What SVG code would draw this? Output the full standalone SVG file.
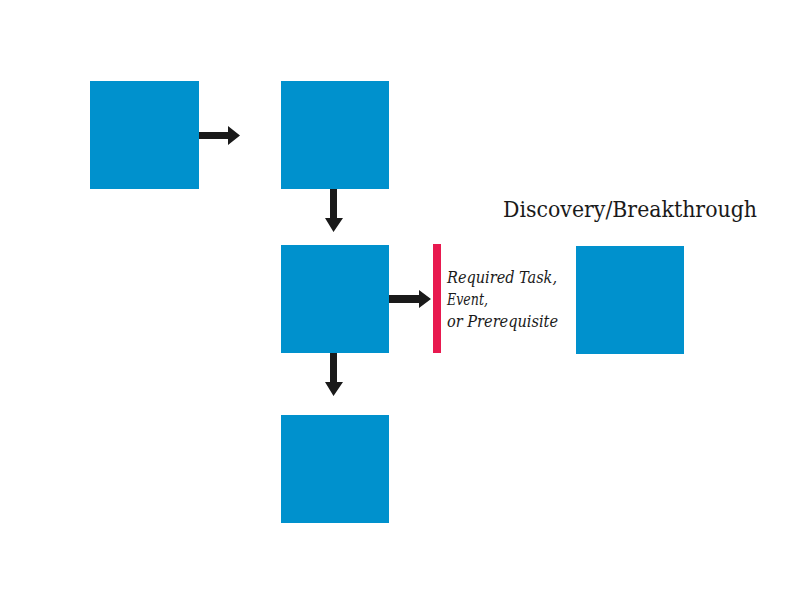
<svg xmlns="http://www.w3.org/2000/svg" width="800" height="600" viewBox="0 0 800 600">
<style>
.box{fill:#0091cd}
.shaft{fill:#1a1a1a}
.lbl{font-family:"DejaVu Serif","Liberation Serif",serif;fill:#1a1a1a;font-stretch:condensed}
</style>
<rect width="800" height="600" fill="#ffffff"/>
<g id="connectors">
<path class="shaft" d="M199,132 H228 V126 L240,135.5 L228,145 V139 H199 Z"/>
<path class="shaft" d="M330,189 V218 H325 L333.5,232 L343,218 H337 V189 Z"/>
<path class="shaft" d="M389,295 H419 V290 L431,299 L419,308 V303 H389 Z"/>
<path class="shaft" d="M330,353 V382 H325 L333.5,396 L343,382 H337 V353 Z"/>
</g>
<g id="node1"><rect class="box" x="90" y="81" width="109" height="108"/></g>
<g id="node2"><rect class="box" x="281" y="81" width="108" height="108"/></g>
<g id="node3"><rect class="box" x="281" y="245" width="108" height="108"/></g>
<g id="node4"><rect class="box" x="281" y="415" width="108" height="108"/></g>
<g id="node5"><rect class="box" x="576" y="246" width="108" height="108"/></g>
<g id="barrier">
<rect x="433" y="244" width="8" height="109" fill="#e8194f"/>
<text class="lbl" font-style="italic" font-size="16" x="447" y="283" textLength="110" lengthAdjust="spacingAndGlyphs">Required Task,</text>
<text class="lbl" font-style="italic" font-size="16" x="447" y="305" textLength="41" lengthAdjust="spacingAndGlyphs">Event,</text>
<text class="lbl" font-style="italic" font-size="16" x="447" y="327" textLength="111" lengthAdjust="spacingAndGlyphs">or Prerequisite</text>
</g>
<g id="title"><text class="lbl" font-size="22" x="503" y="217" textLength="254" lengthAdjust="spacingAndGlyphs">Discovery/Breakthrough</text></g>
</svg>
